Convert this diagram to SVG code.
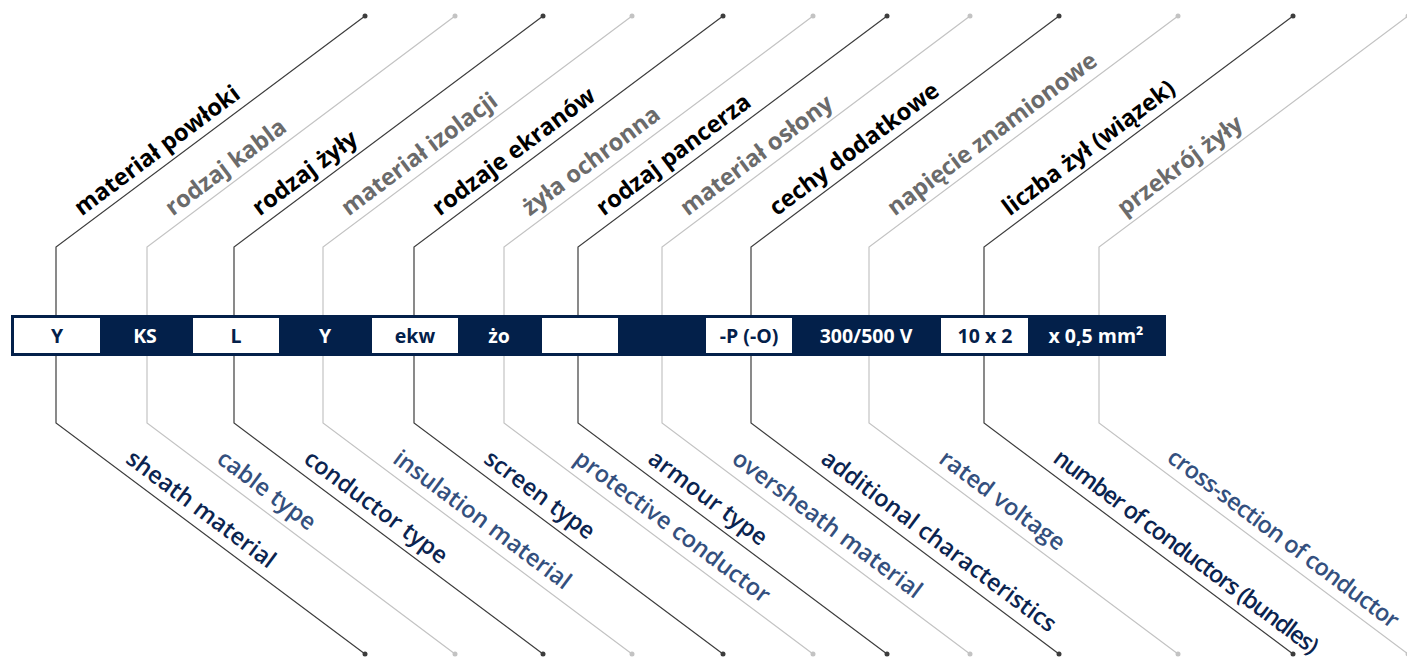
<svg xmlns="http://www.w3.org/2000/svg" width="1407" height="659" viewBox="0 0 1407 659">
<style>
.dk{fill:none;stroke:#3d3d3d;stroke-width:1.2}
.lt{fill:none;stroke:#c3c3c3;stroke-width:1.2}
.dd{fill:#3d3d3d}
.ld{fill:#c3c3c3}
.top{font-family:"Open Sans","Liberation Sans",sans-serif;font-weight:700;font-size:23.5px}
.tb{fill:#000}
.tg{fill:#6b6b6b}
.bot{font-family:"Open Sans","Liberation Sans",sans-serif;font-weight:600;font-size:23.5px}
.bd{fill:#0b2450}
.bl{fill:#34507e}
.cell{font-family:"Open Sans","Liberation Sans",sans-serif;font-weight:700;font-size:19.5px;text-anchor:middle}
.cw{fill:#ffffff}
.cn{fill:#03204a}
</style>
<rect width="1407" height="659" fill="#ffffff"/>
<g id="connectors">
<polyline class="dk" points="365,16 56,247 56,423 365,654"/>
<polyline class="lt" points="455,16 147,247 147,423 455,654"/>
<polyline class="dk" points="543,16 234,247 234,423 543,654"/>
<polyline class="lt" points="632,16 323,247 323,423 632,654"/>
<polyline class="dk" points="723,16 414,247 414,423 723,654"/>
<polyline class="lt" points="813,16 504,247 504,423 813,654"/>
<polyline class="dk" points="887,16 578,247 578,423 887,654"/>
<polyline class="lt" points="970,16 662,247 662,423 970,654"/>
<polyline class="dk" points="1059,16 751,247 751,423 1059,654"/>
<polyline class="lt" points="1178,16 869,247 869,423 1178,654"/>
<polyline class="dk" points="1293,16 984,247 984,423 1293,654"/>
<polyline class="lt" points="1408,16 1099,247 1099,423 1408,654"/>
<circle class="dd" cx="365" cy="16" r="2.5"/><circle class="dd" cx="365" cy="654" r="2.5"/>
<circle class="ld" cx="455" cy="16" r="2.5"/><circle class="ld" cx="455" cy="654" r="2.5"/>
<circle class="dd" cx="543" cy="16" r="2.5"/><circle class="dd" cx="543" cy="654" r="2.5"/>
<circle class="ld" cx="632" cy="16" r="2.5"/><circle class="ld" cx="632" cy="654" r="2.5"/>
<circle class="dd" cx="723" cy="16" r="2.5"/><circle class="dd" cx="723" cy="654" r="2.5"/>
<circle class="ld" cx="813" cy="16" r="2.5"/><circle class="ld" cx="813" cy="654" r="2.5"/>
<circle class="dd" cx="887" cy="16" r="2.5"/><circle class="dd" cx="887" cy="654" r="2.5"/>
<circle class="ld" cx="970" cy="16" r="2.5"/><circle class="ld" cx="970" cy="654" r="2.5"/>
<circle class="dd" cx="1059" cy="16" r="2.5"/><circle class="dd" cx="1059" cy="654" r="2.5"/>
<circle class="ld" cx="1178" cy="16" r="2.5"/><circle class="ld" cx="1178" cy="654" r="2.5"/>
<circle class="dd" cx="1293" cy="16" r="2.5"/><circle class="dd" cx="1293" cy="654" r="2.5"/>
<circle class="ld" cx="1408" cy="16" r="2.5"/><circle class="ld" cx="1408" cy="654" r="2.5"/>
</g>
<g id="bar">
<rect x="11" y="315" width="1155" height="41" fill="#03204a"/>
<rect x="14" y="318" width="86" height="35" fill="#ffffff"/>
<rect x="193" y="318" width="86" height="35" fill="#ffffff"/>
<rect x="372" y="318" width="86" height="35" fill="#ffffff"/>
<rect x="542" y="318" width="76" height="35" fill="#ffffff"/>
<rect x="706" y="318" width="86" height="35" fill="#ffffff"/>
<rect x="941" y="318" width="87" height="35" fill="#ffffff"/>
</g>
<g id="code-Y1"><text class="cell cn" x="57" y="343">Y</text></g>
<g id="code-KS"><text class="cell cw" x="145" y="343">KS</text></g>
<g id="code-L"><text class="cell cn" x="236" y="343">L</text></g>
<g id="code-Y2"><text class="cell cw" x="325" y="343">Y</text></g>
<g id="code-ekw"><text class="cell cn" x="415" y="343">ekw</text></g>
<g id="code-zo"><text class="cell cw" x="499" y="343">żo</text></g>
<g id="code-P"><text class="cell cn" x="749" y="343">-P (-O)</text></g>
<g id="code-V"><text class="cell cw" x="866" y="343">300/500 V</text></g>
<g id="code-n"><text class="cell cn" x="985" y="343">10 x 2</text></g>
<g id="code-mm"><text class="cell cw" x="1096" y="343">x 0,5 mm²</text></g>
<g id="label-top-1" transform="translate(56,247) rotate(-36.78)"><text class="top tb" x="39" y="-9">materiał powłoki</text></g>
<g id="label-top-2" transform="translate(147,247) rotate(-36.78)"><text class="top tg" x="39" y="-9">rodzaj kabla</text></g>
<g id="label-top-3" transform="translate(234,247) rotate(-36.78)"><text class="top tb" x="39" y="-9">rodzaj żyły</text></g>
<g id="label-top-4" transform="translate(323,247) rotate(-36.78)"><text class="top tg" x="39" y="-9">materiał izolacji</text></g>
<g id="label-top-5" transform="translate(414,247) rotate(-36.78)"><text class="top tb" x="39" y="-9">rodzaje ekranów</text></g>
<g id="label-top-6" transform="translate(504,247) rotate(-36.78)"><text class="top tg" x="39" y="-9">żyła ochronna</text></g>
<g id="label-top-7" transform="translate(578,247) rotate(-36.78)"><text class="top tb" x="39" y="-9">rodzaj pancerza</text></g>
<g id="label-top-8" transform="translate(662,247) rotate(-36.78)"><text class="top tg" x="39" y="-9">materiał osłony</text></g>
<g id="label-top-9" transform="translate(751,247) rotate(-36.78)"><text class="top tb" x="39" y="-9">cechy dodatkowe</text></g>
<g id="label-top-10" transform="translate(869,247) rotate(-36.78)"><text class="top tg" x="39" y="-9">napięcie znamionowe</text></g>
<g id="label-top-11" transform="translate(984,247) rotate(-36.78)"><text class="top tb" x="39" y="-9">liczba żył (wiązek)</text></g>
<g id="label-top-12" transform="translate(1099,247) rotate(-36.78)"><text class="top tg" x="39" y="-9">przekrój żyły</text></g>
<g id="label-bot-1" transform="translate(56,423) rotate(36.78)"><text class="bot bd" x="78" y="-10">sheath material</text></g>
<g id="label-bot-2" transform="translate(147,423) rotate(36.78)"><text class="bot bl" x="78" y="-10">cable type</text></g>
<g id="label-bot-3" transform="translate(234,423) rotate(36.78)"><text class="bot bd" x="78" y="-10">conductor type</text></g>
<g id="label-bot-4" transform="translate(323,423) rotate(36.78)"><text class="bot bl" x="78" y="-10">insulation material</text></g>
<g id="label-bot-5" transform="translate(414,423) rotate(36.78)"><text class="bot bd" x="78" y="-10">screen type</text></g>
<g id="label-bot-6" transform="translate(504,423) rotate(36.78)"><text class="bot bl" x="78" y="-10">protective conductor</text></g>
<g id="label-bot-7" transform="translate(578,423) rotate(36.78)"><text class="bot bd" x="78" y="-10">armour type</text></g>
<g id="label-bot-8" transform="translate(662,423) rotate(36.78)"><text class="bot bl" x="78" y="-10">oversheath material</text></g>
<g id="label-bot-9" transform="translate(751,423) rotate(36.78)"><text class="bot bd" x="78" y="-10">additional characteristics</text></g>
<g id="label-bot-10" transform="translate(869,423) rotate(36.78)"><text class="bot bl" x="78" y="-10">rated voltage</text></g>
<g id="label-bot-11" transform="translate(984,423) rotate(36.78)"><text class="bot bd" x="77" y="-10" letter-spacing="-1.4">number of conductors (bundles)</text></g>
<g id="label-bot-12" transform="translate(1099,423) rotate(36.78)"><text class="bot bl" x="76" y="-10" letter-spacing="-0.7">cross-section of conductor</text></g>
</svg>
